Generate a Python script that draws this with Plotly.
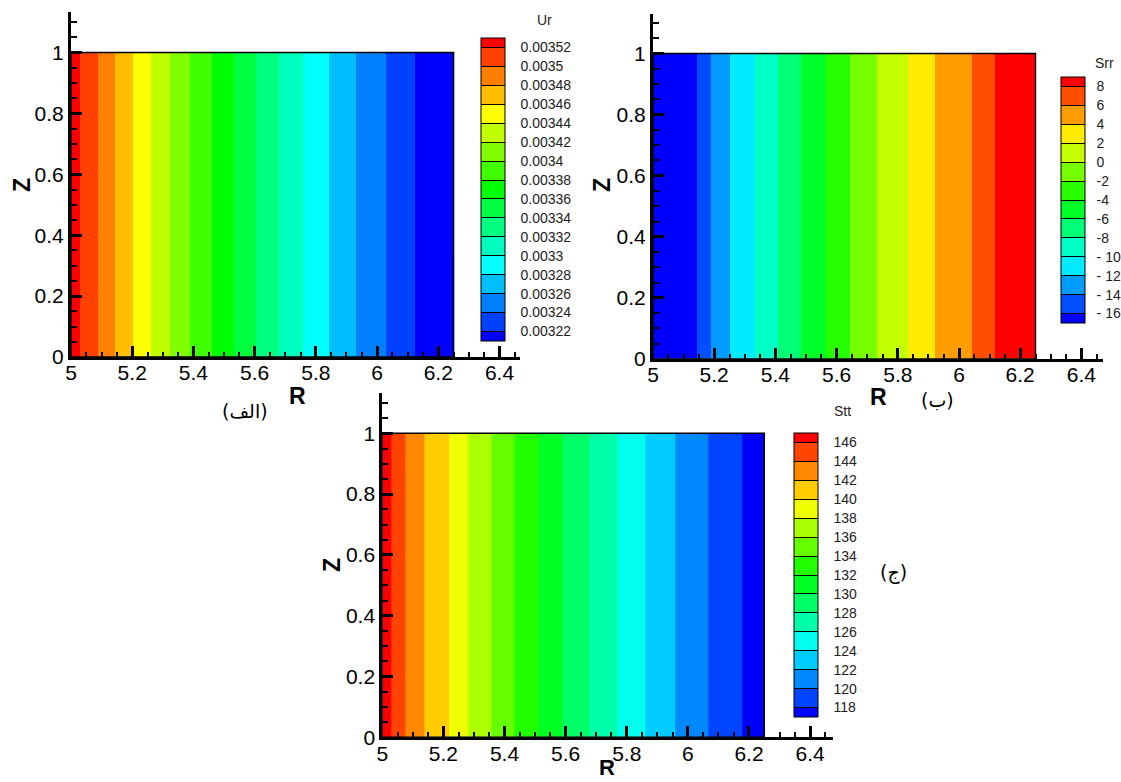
import plotly.graph_objects as go

# ---------------- data ----------------
# (a) radial displacement Ur : contour levels and the R positions of the band boundaries
ur_levels = [0.00322, 0.00324, 0.00326, 0.00328, 0.0033, 0.00332, 0.00334, 0.00336,
             0.00338, 0.0034, 0.00342, 0.00344, 0.00346, 0.00348, 0.0035, 0.00352]
ur_R_edges = [5.0, 5.029, 5.087, 5.143, 5.203, 5.262, 5.323, 5.390, 5.460, 5.531,
              5.606, 5.681, 5.757, 5.843, 5.932, 6.028, 6.125, 6.25]
ur_decreasing = True

# (b) radial stress Srr
srr_levels = [-16, -14, -12, -10, -8, -6, -4, -2, 0, 2, 4, 6, 8]
srr_ticktext = ["- 16", "- 14", "- 12", "- 10", "-8", "-6", "-4", "-2", "0", "2", "4", "6", "8"]
srr_R_edges = [5.0, 5.144, 5.188, 5.252, 5.333, 5.408, 5.483, 5.565, 5.644, 5.733,
               5.833, 5.920, 6.041, 6.119, 6.25]
srr_decreasing = False

# (c) hoop stress Stt
stt_levels = [118, 120, 122, 124, 126, 128, 130, 132, 134, 136, 138, 140, 142, 144, 146]
stt_R_edges = [5.0, 5.030, 5.076, 5.136, 5.218, 5.282, 5.356, 5.431, 5.511, 5.590,
               5.678, 5.770, 5.860, 5.960, 6.067, 6.178, 6.25]
stt_decreasing = True

Z_edges = [0.0, 1.0]

W, H = 1121, 782
FONT = "Liberation Sans, Arial, Helvetica, sans-serif"
ANCH = [(0, 0, 255), (0, 255, 255), (0, 255, 0), (255, 255, 0), (255, 0, 0)]


def rainbow(f):
    p = f * 4
    i = min(int(p), 3)
    t = p - i
    a, b = ANCH[i], ANCH[i + 1]
    return "rgb(%d,%d,%d)" % tuple(round(a[j] + (b[j] - a[j]) * t) for j in range(3))


def band_trace(levels, R_edges, decreasing, ticktext, xa, ya, cb):
    step = levels[1] - levels[0]
    zmin, zmax = levels[0] - step / 2, levels[-1] + step / 2
    zedges = [zmin] + list(levels) + [zmax]
    frac = [(e - zmin) / (zmax - zmin) for e in zedges]
    frac[0], frac[-1] = 0.0, 1.0
    n = len(levels) + 1
    cs = []
    for k in range(n):
        c = rainbow(k / (n - 1))
        cs += [[frac[k], c], [frac[k + 1], c]]
    centers = [(a + b) / 2 for a, b in zip(zedges, zedges[1:])]
    if decreasing:
        centers = centers[::-1]
    pad = "&nbsp;" * cb["gap"]
    return go.Heatmap(
        x=R_edges, y=Z_edges, z=[centers],
        zmin=zmin, zmax=zmax,
        colorscale=cs, xaxis=xa, yaxis=ya, hoverinfo="skip",
        colorbar=dict(
            x=cb["x"] / W, xanchor="left", xpad=0,
            y=1 - cb["top"] / H, yanchor="top", ypad=0,
            len=cb["len"], lenmode="pixels", thickness=cb["th"], thicknessmode="pixels",
            outlinewidth=1, outlinecolor="black", borderwidth=0,
            tickmode="array", tickvals=levels, ticktext=[pad + t for t in ticktext],
            ticks="inside", ticklen=cb["th"], tickwidth=1, tickcolor="black",
            tickfont=dict(family=FONT, size=14, color="#222"),
        ),
    )


fig = go.Figure()
fig.add_trace(band_trace(ur_levels, ur_R_edges, ur_decreasing, [f"{v:g}" for v in ur_levels],
                         "x", "y", dict(x=481, top=38, len=303, th=24, gap=3)))
fig.add_trace(band_trace(srr_levels, srr_R_edges, srr_decreasing, srr_ticktext,
                         "x2", "y2", dict(x=1061, top=77, len=246, th=24, gap=2)))
fig.add_trace(band_trace(stt_levels, stt_R_edges, stt_decreasing, [str(v) for v in stt_levels],
                         "x3", "y3", dict(x=794, top=433, len=284, th=24, gap=3)))


def xax(domain, rng, anchor):
    return dict(domain=domain, range=rng, anchor=anchor, dtick=0.2, tick0=5, automargin=False,
                ticks="inside", ticklen=11, tickwidth=3, tickcolor="black",
                minor=dict(dtick=0.05, tick0=5, ticks="inside", ticklen=5, tickwidth=1.5, tickcolor="black"),
                showline=True, linewidth=3, linecolor="black", showgrid=False, zeroline=False,
                tickfont=dict(family=FONT, size=21, color="black"), ticklabelstandoff=-5)


def yax(domain, rng, anchor):
    return dict(domain=domain, range=rng, anchor=anchor, dtick=0.2, tick0=0, automargin=False,
                ticks="inside", ticklen=11, tickwidth=3, tickcolor="black",
                minor=dict(dtick=0.05, tick0=0, ticks="inside", ticklen=6, tickwidth=1.5, tickcolor="black"),
                showline=True, linewidth=3, linecolor="black", showgrid=False, zeroline=False,
                tickfont=dict(family=FONT, size=21, color="black"), ticklabelstandoff=0)


fig.update_layout(
    width=W, height=H, margin=dict(l=0, r=0, t=0, b=0, autoexpand=False),
    paper_bgcolor="white", plot_bgcolor="white", showlegend=False,
    xaxis=xax([71 / W, 520 / W], [5, 6.467], "y"),
    yaxis=yax([1 - 357 / H, 1 - 11.7 / H], [0, 1.134], "x"),
    xaxis2=xax([653 / W, 1103 / W], [5, 6.4706], "y2"),
    yaxis2=yax([1 - 359 / H, 1 - 13.5 / H], [0, 1.131], "x2"),
    xaxis3=xax([382.3 / W, 833.3 / W], [5, 6.476], "y3"),
    yaxis3=yax([1 - 737.3 / H, 1 - 393.3 / H], [0, 1.1316], "x3"),
)

# data-domain outline
for R_edges, xr, yr in [(ur_R_edges, "x", "y"), (srr_R_edges, "x2", "y2"), (stt_R_edges, "x3", "y3")]:
    fig.add_shape(type="rect", xref=xr, yref=yr, x0=R_edges[0], x1=R_edges[-1],
                  y0=Z_edges[0], y1=Z_edges[-1], line=dict(color="black", width=1.5),
                  fillcolor="rgba(0,0,0,0)", layer="above")


def ann(text, x, y, size, bold=False, angle=0, family=FONT, xanchor="center", color="black"):
    fig.add_annotation(text=("<b>%s</b>" % text) if bold else text, x=x / W, y=1 - y / H,
                       xref="paper", yref="paper", showarrow=False, textangle=angle,
                       xanchor=xanchor, yanchor="middle",
                       font=dict(family=family, size=size, color=color))


# axis titles
ann("R", 297, 396, 23, bold=True)
ann("Z", 22, 185, 23, bold=True, angle=-90)
ann("R", 878, 397, 23, bold=True)
ann("Z", 602, 185, 23, bold=True, angle=-90)
ann("R", 607, 767, 22, bold=True)
ann("Z", 332, 565, 23, bold=True, angle=-90)

# legend headers
ann("Ur", 544, 20, 14, color="#222")
ann("Srr", 1104, 63, 14, color="#222")
ann("Stt", 842, 411, 14, color="#222")

# panel labels
AR = "DejaVu Sans, Noto Sans, sans-serif"
ann("(الف)", 245, 411, 19, family=AR)
ann("(ب)", 937, 400, 19, family=AR)
ann("(ج)", 893, 572, 19, family=AR)

fig.write_html("out.html", config={"displayModeBar": False})
